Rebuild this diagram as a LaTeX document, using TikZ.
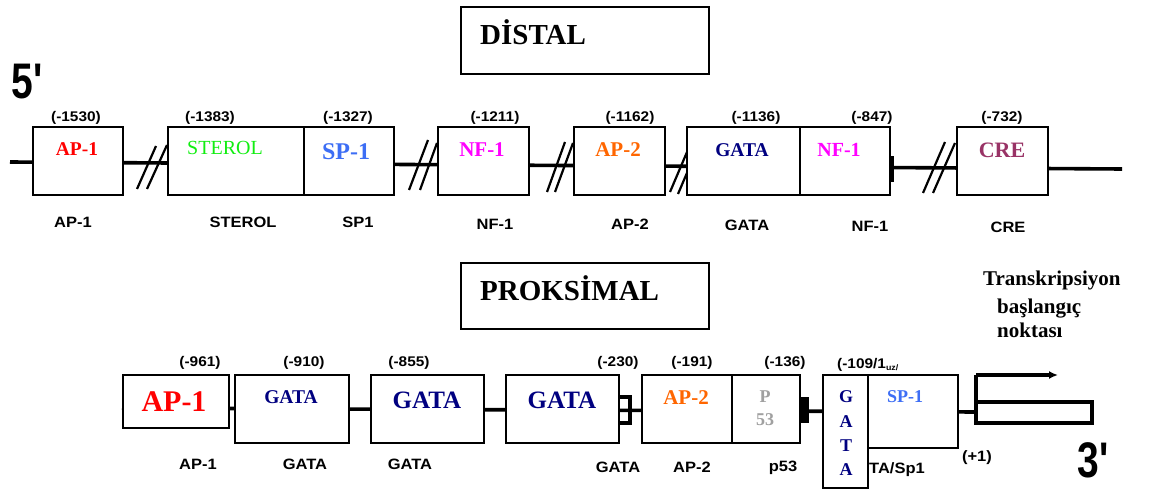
\documentclass[tikz,border=0pt]{standalone}
\usepackage{fontspec}
\setmainfont{Liberation Serif}
\newfontfamily\scanfont{Liberation Sans}[FakeStretch=1.1]
\newfontfamily\bigscanfont{Liberation Sans}[FakeStretch=0.78]
\usetikzlibrary{arrows.meta}
\definecolor{cred}{HTML}{FF0000}
\definecolor{cgreen}{HTML}{11EE11}
\definecolor{cblue}{HTML}{3D6EF5}
\definecolor{cmag}{HTML}{FF00FF}
\definecolor{corange}{HTML}{FF6600}
\definecolor{cnavy}{HTML}{000080}
\definecolor{ccre}{HTML}{993366}
\definecolor{cgray}{HTML}{A0A0A0}
\begin{document}
\begin{tikzpicture}[x=1pt,y=-1pt,
  box/.style={draw, line width=1.6pt, fill=white, inner sep=0pt, anchor=north west},
  tf/.style={inner sep=0pt, font=\bfseries\fontsize{#1}{#1}\selectfont},
  tfr/.style={inner sep=0pt, font=\fontsize{#1}{#1}\selectfont},
  num/.style={inner sep=0pt, font=\scanfont\bfseries\fontsize{14}{14}\selectfont},
  sublab/.style={inner sep=0pt, font=\scanfont\bfseries\fontsize{15}{15}\selectfont},
  prime/.style={inner sep=0pt, font=\bigscanfont\bfseries\fontsize{50}{50}\selectfont},
  dna/.style={line width=3.6pt},
  brk/.style={line width=2.2pt},
  gene/.style={line width=3.2pt}
]
\useasboundingbox (0,0) rectangle (1156,489);

% ---------- titles ----------
\node[box, minimum width=248pt, minimum height=67pt] (tdist) at (460,6) {};
\node[tf=29, anchor=base west] (tdistt) at (480,45) {DİSTAL};
\node[box, minimum width=248pt, minimum height=66pt] (tprok) at (460,262) {};
\node[tf=29, anchor=base west] (tprokt) at (480,300) {PROKSİMAL};

\node[prime] (five) at (27,82) {5'};
\node[prime] (three) at (1093,460) {3'};

% ---------- distal strand ----------
\coordinate (d5) at (10,162);
\coordinate (d3) at (1122,169);
\draw[dna] (d5) -- (d3);

% slashes
\draw[brk] (137,189) -- (156,146) (147,189) -- (167,145);
\draw[brk] (409,190) -- (428,140) (420,190) -- (437,143);
\draw[brk] (547,192) -- (565,142) (555,192) -- (573,143);
\draw[brk] (670,192) -- (690,145) (678,194) -- (698,147);
\draw[brk] (923,193) -- (945,142) (933,193) -- (955,143);

\node[box, minimum width=90pt, minimum height=68pt] (dap) at (32,126) {};
\node[box, minimum width=136pt, minimum height=68pt] (dst) at (167,126) {};
\node[box, minimum width=90pt, minimum height=68pt] (dsp) at (303,126) {};
\node[box, minimum width=91pt, minimum height=68pt] (dnf) at (437,126) {};
\node[box, minimum width=91pt, minimum height=68pt] (dap2) at (573,126) {};
\node[box, minimum width=113pt, minimum height=68pt] (dga) at (686,126) {};
\node[box, minimum width=90pt, minimum height=68pt] (dnf2) at (799,126) {};
\node[box, minimum width=91pt, minimum height=68pt] (dcre) at (956,126) {};
\fill (889,156) rectangle (894,182);

\node[tf=19.5, text=cred] (dapt) at (77,149) {AP-1};
\node[tfr=20, text=cgreen] (dstt) at (225,148) {STEROL};
\node[tf=24, text=cblue] (dspt) at (346,152) {SP-1};
\node[tf=21, text=cmag] (dnft) at (482,150) {NF-1};
\node[tf=21, text=corange] (dap2t) at (618,150) {AP-2};
\node[tf=19.5, text=cnavy] (dgat) at (742,150) {GATA};
\node[tf=20, text=cmag] (dnf2t) at (839,150) {NF-1};
\node[tf=22, text=ccre] (dcret) at (1002,150) {CRE};

\node[num] (n1) at (76,118) {(-1530)};
\node[num] (n2) at (210,118) {(-1383)};
\node[num] (n3) at (348,118) {(-1327)};
\node[num] (n4) at (495,118) {(-1211)};
\node[num] (n5) at (630,118) {(-1162)};
\node[num] (n6) at (756,118) {(-1136)};
\node[num] (n7) at (872,118) {(-847)};
\node[num] (n8) at (1002,118) {(-732)};

\node[sublab] (s1) at (73,222) {AP-1};
\node[sublab] (s2) at (243,222) {STEROL};
\node[sublab] (s3) at (358,222) {SP1};
\node[sublab] (s4) at (495,224) {NF-1};
\node[sublab] (s5) at (630,224) {AP-2};
\node[sublab] (s6) at (747,225) {GATA};
\node[sublab] (s7) at (870,226) {NF-1};
\node[sublab] (s8) at (1008,227) {CRE};

% ---------- proximal strand ----------
\node[sublab] (q1) at (198,464) {AP-1};
\node[sublab] (q2) at (305,464) {GATA};
\node[sublab] (q3) at (410,464) {GATA};
\node[sublab] (q4) at (618,467) {GATA};
\node[sublab] (q5) at (692,467) {AP-2};
\node[sublab] (q6) at (783,468) {p53};
\node[sublab, anchor=west] (q7) at (869,470) {TA/Sp1};
\node[sublab] (q8) at (977,458) {(+1)};

\coordinate (p5) at (122,408);
\coordinate (pend) at (976,412);
\draw[dna] (p5) -- (pend);

\node[box, minimum width=106pt, minimum height=53pt] (pap) at (122,374) {};
\node[box, minimum width=114pt, minimum height=68pt] (pg1) at (234,374) {};
\node[box, minimum width=113pt, minimum height=68pt] (pg2) at (370,374) {};
\node[box, minimum width=113pt, minimum height=68pt] (pg3) at (505,374) {};
\node[box, minimum width=90pt, minimum height=68pt] (pap2) at (641,374) {};
\node[box, minimum width=68pt, minimum height=68pt] (pp53) at (731,374) {};
\node[box, minimum width=45pt, minimum height=113pt] (pgv) at (822,374) {};
\node[box, minimum width=90pt, minimum height=73pt] (psp) at (867,374) {};

\draw[gene] (618,397) -- (630,397) -- (630,423) -- (618,423);
\fill (799,397) rectangle (809,423);

\node[tf=30, text=cred] (papt) at (174,402) {AP-1};
\node[tf=19.5, text=cnavy] (pg1t) at (291,397) {GATA};
\node[tf=25, text=cnavy] (pg2t) at (427,400) {GATA};
\node[tf=25, text=cnavy] (pg3t) at (562,400) {GATA};
\node[tf=21, text=corange] (pap2t) at (686,398) {AP-2};
\node[tf=18, text=cgray] (pp53a) at (765,397) {P};
\node[tf=18, text=cgray] (pp53b) at (765,420) {53};
\node[tf=18, text=cnavy] (gv1) at (846,397) {G};
\node[tf=18, text=cnavy] (gv2) at (846,422) {A};
\node[tf=18, text=cnavy] (gv3) at (846,446) {T};
\node[tf=18, text=cnavy] (gv4) at (846,470) {A};
\node[tf=18, text=cblue] (pspt) at (905,397) {SP-1};

\node[num] (m1) at (200,363) {(-961)};
\node[num] (m2) at (304,363) {(-910)};
\node[num] (m3) at (409,363) {(-855)};
\node[num] (m4) at (618,363) {(-230)};
\node[num] (m5) at (692,363) {(-191)};
\node[num] (m6) at (785,363) {(-136)};
\node[num, anchor=west] (m7) at (837,365) {(-109/1{\fontsize{8}{8}\selectfont\raisebox{-2pt}{uz/}}};

% transcription start
\coordinate (ga) at (976,375);
\coordinate (gb) at (976,425);
\coordinate (gtip) at (1058,375);
\draw[gene] (ga) -- (gb);
\draw[gene, -{Latex[length=9pt,width=8pt]}] (ga) -- (gtip);
\draw[gene] (976,402) rectangle (1092,423);

\node[tf=21, anchor=base west] (tr1) at (983,285) {Transkripsiyon};
\node[tf=21, anchor=base west] (tr2) at (997,313) {başlangıç};
\node[tf=21, anchor=base west] (tr3) at (997,337) {noktası};
\end{tikzpicture}
\end{document}
